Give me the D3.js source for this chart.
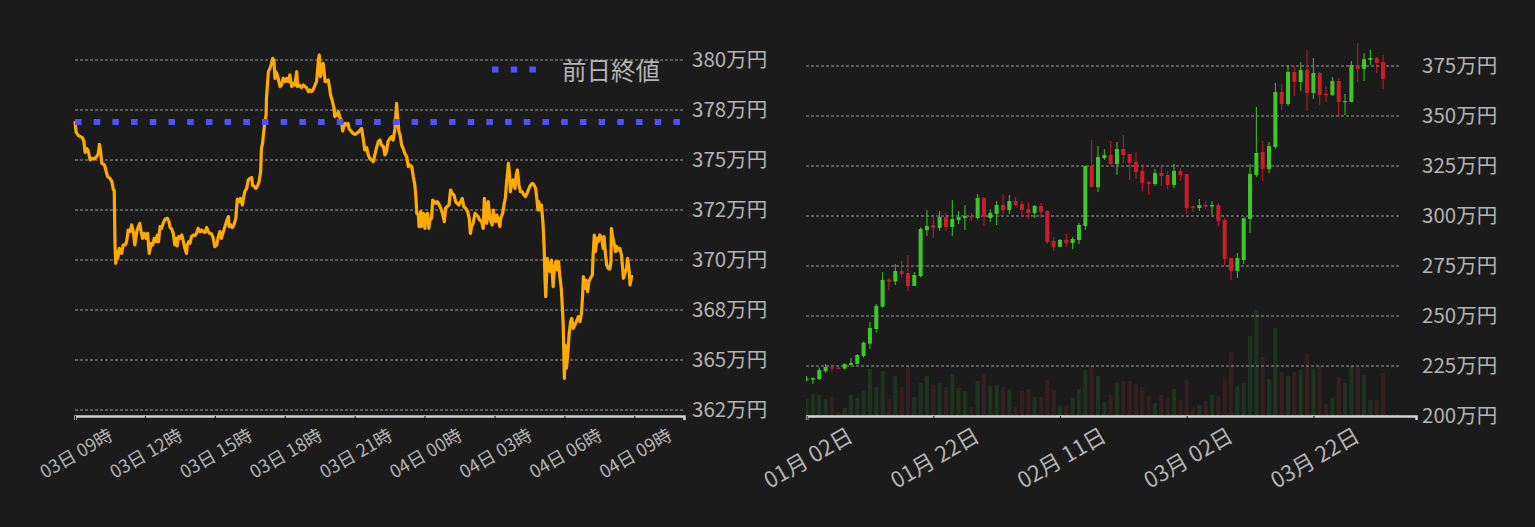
<!DOCTYPE html>
<html><head><meta charset="utf-8">
<script src="https://cdn.jsdelivr.net/npm/d3@7"></script>
<style>
html,body{margin:0;padding:0;background:#1b1b1b;}
svg{display:block;}
</style></head><body>
<svg id="c" width="1535" height="527"></svg>
<script>
// ---------- intraday (left) data ----------
const legendLabel = "前日終値";
const prevClose = 376.9; // 万円
const lineMinutes = [
0,3,9,19,23,26,30,34,39,43,
49,56,60,63,66,69,76,80,84,90,
95,99,101,103,105,107,110,114,120,124,
129,133,137,142,146,150,154,159,163,167,
170,174,178,183,187,191,196,200,204,209,
212,215,219,223,227,232,238,242,245,249,
253,257,260,263,267,270,275,279,283,287,
289,293,296,300,305,309,313,317,322,326,
330,335,339,343,347,352,356,360,365,369,
373,377,382,386,390,395,397,401,405,409,
414,418,422,426,431,433,437,442,446,450,
455,457,462,466,470,474,478,480,483,485,
487,489,492,493,496,498,502,506,509,512,
515,517,521,525,528,532,536,541,545,549,
553,558,562,566,571,573,577,583,588,592,
596,601,605,609,613,618,622,625,627,629,
632,637,639,644,648,652,655,658,662,667,
669,674,678,682,686,689,692,696,699,703,
706,712,716,721,
729,738,742,746,751,755,759,764,768,772,
776,781,785,789,794,798,802,806,811,815,
819,824,826,828,830,834,837,841,845,849,
854,858,862,867,871,875,878,880,884,886,
890,892,897,901,903,908,911,914,918,921,
925,929,933,938,942,946,951,954,958,963,
967,971,976,980,984,988,993,997,1001,1006,
1011,1015,1018,1021,1025,1030,1034,1038,1042,1047,
1051,1054,1057,1060,1064,1068,1071,1074,1077,1079,
1083,1086,1090,1094,1096,1101,1105,1108,1111,1114,
1116,1119,1121,1124,1128,1133,1136,1139,1143,1147,
1151,1156,1160,1164,1169,1173,1177,1181,1186,1189,
1192,1194,1198,1201,1205,1208,1210,1212,1216,1219,
1223,1227,1231,1234,1238,1242,1245,1248,1252,1255,
1257,1260,1262,1265,1267,1270,1272,1276,1279,1283,
1287,1291,1296,1300,1304,1307,1309,1313,1316,1320,
1323,1327,1332,1334,1337,1340,1344,1347,1351,1356,
1360,1362,1366,1369,1373,1377,1380,1381,1385,1388,
1392,1395,1399,1403,1407,1410,1412,1416,1420,1423,
1427,1429,1433,1437
];
const lineValues = [
376.95,376.38,376.22,376.12,375.92,375.38,375.58,375.45,375.0,375.08,
375.05,375.17,375.33,375.78,375.42,374.83,374.75,374.45,374.17,374.08,
373.92,373.5,373.47,370.75,369.83,370.42,370.08,370.58,370.33,370.75,
370.75,370.92,371.5,371.42,371.75,371.42,370.75,371.42,371.67,371.83,
371.42,371.08,371.33,371.08,371.33,370.33,370.83,370.75,371.08,370.92,
371.25,370.92,371.67,371.58,371.83,372.05,372.08,371.92,371.62,371.55,
371.33,370.75,371.08,370.7,371.17,371.08,371.25,370.92,370.58,370.33,
370.75,370.92,370.83,371.17,371.25,371.22,371.33,371.58,371.42,371.5,
371.42,371.38,371.62,371.42,371.33,371.3,371.08,370.67,370.75,371.17,
371.42,371.08,371.42,371.67,371.92,372.17,371.67,371.75,371.62,371.75,
372.08,373.05,372.92,373.08,372.75,373.0,373.42,373.58,374.0,374.08,
374.12,373.75,373.67,373.58,373.7,373.92,374.42,375.58,375.83,376.25,
376.58,376.92,377.25,378.08,378.92,379.42,379.58,379.83,380.08,380.0,
379.08,379.42,379.25,378.92,378.67,378.75,379.08,378.92,379.08,378.92,
379.25,378.67,378.83,378.75,379.42,378.67,378.75,378.62,378.75,378.67,
378.62,378.42,378.5,378.42,378.5,378.75,378.92,379.58,380.08,380.25,
379.17,379.75,379.83,378.92,378.95,379.0,378.67,378.25,378.0,377.58,
377.17,377.25,377.42,377.12,377.0,376.45,376.67,376.83,376.75,376.83,
376.55,376.42,376.33,376.28,
376.38,376.58,376.08,375.5,375.62,375.25,375.08,375.0,374.92,375.25,
375.58,375.92,376.0,375.75,375.67,375.25,375.42,375.92,376.08,376.17,
376.0,376.58,377.25,377.83,377.25,376.42,376.25,375.75,375.58,375.33,
375.17,374.67,374.75,374.67,374.17,373.75,373.08,372.33,372.25,371.67,
372.42,371.67,372.33,371.58,372.25,372.33,371.58,372.0,372.08,373.0,
372.92,372.83,372.92,372.75,372.58,372.33,371.92,372.58,372.67,372.75,
373.5,373.33,373.25,372.92,372.83,372.75,372.92,373.08,372.67,372.58,
372.42,372.08,371.33,371.67,371.83,372.33,372.25,372.17,372.0,371.92,
371.58,373.08,372.58,371.83,372.92,372.08,371.92,371.75,372.5,372.08,
371.92,372.25,372.0,371.67,372.08,372.33,372.83,373.08,373.83,374.42,
374.83,374.25,373.42,373.75,374.0,373.58,374.25,374.5,373.75,373.42,
373.42,373.25,373.17,373.33,373.58,373.75,373.83,373.78,373.58,373.08,
372.5,372.92,372.5,372.75,371.83,370.58,369.08,368.17,370.08,369.58,
369.42,370.0,368.67,369.5,369.92,369.5,369.92,369.25,368.58,367.58,
366.75,364.08,365.75,364.58,364.92,365.58,366.25,366.92,367.08,366.58,
366.75,366.92,367.17,366.92,367.33,368.25,369.17,368.58,369.0,368.42,
368.92,369.08,369.25,370.25,371.25,370.42,371.08,370.92,371.25,371.08,
370.58,371.17,370.25,369.75,369.58,369.55,369.92,371.58,371.08,370.83,
370.42,370.67,370.5,370.58,370.25,369.58,369.08,369.33,369.58,370.08,
369.42,368.75,369.17,369.17
];
const leftTickValues = [380, 377.5, 375, 372.5, 370, 367.5, 365, 362.5];
const leftTickLabels = ["380万円","378万円","375万円","372万円","370万円","368万円","365万円","362万円"];

// ---------- daily (right) data ----------
const opens = [
218.0,218.2,218.5,222.5,224.3,224.2,223.7,225.5,226.0,230.0,
236.2,243.5,254.7,268.2,267.2,272.5,271.5,265.0,270.0,293.0,
295.5,294.0,299.5,294.5,298.0,299.0,300.0,299.0,309.0,299.0,
301.0,305.5,303.0,307.5,306.0,303.5,301.5,305.0,302.5,287.5,
284.5,288.0,286.5,288.0,295.0,325.0,314.5,329.0,330.5,326.0,
333.5,331.0,327.0,322.5,317.0,316.0,321.5,320.5,315.5,322.5,
321.0,304.7,304.0,305.5,304.7,305.5,298.0,279.0,272.5,278.0,
298.5,320.5,332.0,323.5,334.5,362.0,356.0,372.0,367.0,373.0,
361.5,371.5,361.0,360.5,367.5,357.3,357.0,375.5,373.5,378.0,
379.0,377.0];
const highs = [
220.0,219.0,224.3,226.0,226.0,224.5,226.3,229.0,231.0,237.2,
247.0,256.0,272.0,268.8,276.0,277.5,280.5,272.0,294.3,303.0,
299.7,302.5,302.0,308.0,302.5,305.5,301.5,311.0,309.5,303.5,
307.5,311.0,310.5,309.5,307.5,307.0,305.5,306.5,303.0,289.5,
288.5,291.0,289.5,296.5,325.0,338.0,335.0,333.5,337.5,337.0,
340.5,331.0,332.0,326.0,317.5,323.5,325.0,322.5,326.0,324.0,
321.0,305.0,308.5,307.5,307.5,306.5,299.0,279.0,281.5,299.0,
326.0,354.5,337.5,337.0,366.5,366.0,375.5,375.0,377.0,383.0,
379.0,372.0,365.0,369.5,369.0,361.0,377.5,386.5,381.5,383.0,
379.5,380.5];
const lows = [
217.2,216.0,218.0,221.5,222.2,223.5,223.3,225.5,225.7,229.2,
233.5,241.7,254.2,263.0,265.5,269.2,262.5,265.0,269.3,290.0,
289.0,292.7,292.5,290.0,296.0,293.0,297.5,298.5,295.0,297.0,
295.5,301.0,301.0,305.0,300.0,298.5,299.0,299.0,286.0,282.5,
284.5,284.5,283.5,286.0,293.0,314.5,312.0,328.0,325.5,320.5,
326.5,318.0,318.5,312.5,310.5,315.0,315.0,313.5,314.0,317.5,
301.0,302.0,302.5,303.5,300.5,295.0,275.5,268.0,269.0,276.0,
291.5,319.5,317.5,321.5,333.5,353.0,355.0,360.0,362.5,352.5,
358.5,355.5,357.0,360.0,350.0,350.5,357.0,367.0,367.5,375.5,
371.5,363.5];
const closes = [
218.7,219.0,223.0,224.5,223.7,223.7,226.0,226.5,230.5,236.7,
244.0,255.0,268.0,267.2,272.5,271.0,265.0,270.5,293.5,295.0,
294.0,299.5,294.5,298.5,299.5,300.0,299.3,309.0,299.5,301.5,
305.5,303.0,307.5,305.5,303.0,301.5,305.0,302.0,287.0,284.5,
288.0,286.5,288.5,295.5,325.0,314.5,329.5,330.5,326.0,333.5,
330.5,326.5,322.0,316.5,316.0,321.5,320.0,315.5,322.5,320.5,
304.0,304.0,305.5,304.7,305.5,297.5,278.5,272.5,279.0,299.0,
321.0,331.5,323.5,335.0,362.0,356.0,372.0,367.0,373.0,361.5,
371.5,360.5,360.5,367.5,357.0,357.5,375.5,373.5,378.5,379.0,
376.5,368.5];
const volumes = [
1700,2200,2100,1700,1900,400,800,2100,1800,2500,
4700,2900,4500,1700,4000,2900,4900,1900,3300,4000,
3100,3300,2900,4200,2800,2500,900,3500,4200,3000,
3100,2900,2600,900,2500,2700,1900,1900,3600,2600,
1000,1000,1800,2700,4600,5000,4000,1400,2100,3300,
3500,3500,3200,2900,2000,1300,2100,1800,2700,1600,
3600,900,1100,1500,2100,2000,3700,6400,3000,3300,
8000,10600,5900,3700,8800,4400,4000,4400,4600,6200,
4700,5000,1200,1800,3900,3300,5000,5000,4100,1600,
1600,4300];
const dailyTickIndex = [0, 20, 40, 60, 80];
const dailyTickLabels = ["01月 02日","01月 22日","02月 11日","03月 02日","03月 22日"];
const rightTickValues = [375, 350, 325, 300, 275, 250, 225, 200];

// ---------- drawing ----------
const FONT = '"Noto Sans CJK JP","Noto Sans",sans-serif';
const TXT = "#b4b4b4";
const GRID = "#bcbcbc";
const svg = d3.select("#c");
svg.append("rect").attr("width",1535).attr("height",527).attr("fill","#1b1b1b");

// LEFT
const start = new Date(2023,3,3,9,0,0);
const xL = d3.scaleTime().domain([start, d3.timeMinute.offset(start,1568)]).range([75,684]);
const yL = d3.scaleLinear().domain([362.2,382.2]).range([416,16]);
const gL = svg.append("g");
gL.selectAll("line.g").data(leftTickValues).join("line")
  .attr("x1",75).attr("x2",684).attr("y1",d=>yL(d)).attr("y2",d=>yL(d))
  .attr("stroke",GRID).attr("stroke-width",0.8).attr("stroke-dasharray","3,2");
const pts = lineMinutes.map((m,i)=>({t:d3.timeMinute.offset(start,m), v:lineValues[i]})).filter(d=>d.v!==undefined);
gL.append("path").datum(pts)
  .attr("d", d3.line().x(d=>xL(d.t)).y(d=>yL(d.v)))
  .attr("fill","none").attr("stroke","#ffaa00").attr("stroke-width",3.2).attr("stroke-linejoin","round");
gL.append("line").attr("x1",75).attr("x2",684).attr("y1",yL(prevClose)).attr("y2",yL(prevClose))
  .attr("stroke","#5050ff").attr("stroke-width",6).attr("stroke-dasharray","6.5,12.2");
// legend
gL.append("line").attr("x1",492).attr("x2",540).attr("y1",69.5).attr("y2",69.5)
  .attr("stroke","#5050ff").attr("stroke-width",6).attr("stroke-dasharray","6.5,12.2");
gL.append("text").attr("x",562).attr("y",69.5).attr("dominant-baseline","central")
  .attr("font-family",FONT).attr("font-size",24.5).attr("fill",TXT).text(legendLabel);

const axL = d3.axisBottom(xL)
  .tickValues(d3.range(9).map(k=>d3.timeHour.offset(start,3*k)))
  .tickFormat(d3.timeFormat("%d日 %H時")).tickSizeOuter(0).tickSize(4);
const gaxL = svg.append("g").attr("transform","translate(0,416)").call(axL);
gaxL.select(".domain").attr("stroke","#d2d2d2").attr("stroke-width",2.5);
gaxL.selectAll(".tick line").attr("stroke","#000");
gaxL.selectAll(".tick text").attr("fill",TXT).attr("font-size",18).attr("font-family",FONT)
  .attr("y",36).attr("dy",null).attr("text-anchor","middle").attr("dominant-baseline","central")
  .attr("transform","rotate(-30,0,36)");
const ayL = d3.axisRight(yL).tickValues(leftTickValues).tickFormat((d,i)=>leftTickLabels[i]).tickSize(0).tickPadding(8);
const gayL = svg.append("g").attr("transform","translate(684,0)").call(ayL);
gayL.select(".domain").remove();
gayL.selectAll("text").attr("fill",TXT).attr("font-size",20.5).attr("font-family",FONT);

// RIGHT
const xR = d3.scaleLinear().domain([0,96.2]).range([806.6,1416]);
const yR = d3.scaleLinear().domain([200,400]).range([416,16]);
const yV = d3.scaleLinear().domain([0,40000]).range([416,16]);
svg.append("clipPath").attr("id","cr").append("rect").attr("x",806).attr("y",0).attr("width",610).attr("height",416);
const gR = svg.append("g").attr("clip-path","url(#cr)");
const idx = d3.range(opens.length);
const up = i => closes[i] >= opens[i];
gR.selectAll("rect.v").data(idx).join("rect")
  .attr("x",i=>xR(i)-2).attr("width",4)
  .attr("y",i=>yV(volumes[i])).attr("height",i=>yV(0)-yV(volumes[i]))
  .attr("fill",i=>up(i)?"#1e341e":"#361f20");
gR.selectAll("line.g").data(rightTickValues).join("line")
  .attr("x1",806).attr("x2",1400).attr("y1",d=>yR(d)).attr("y2",d=>yR(d))
  .attr("stroke",GRID).attr("stroke-width",0.8).attr("stroke-dasharray","3,2");
const GREEN="#3cc828", RED="#c81e2a";
gR.selectAll("line.w").data(idx).join("line")
  .attr("x1",i=>xR(i)).attr("x2",i=>xR(i)).attr("y1",i=>yR(highs[i])).attr("y2",i=>yR(lows[i]))
  .attr("stroke",i=>up(i)?GREEN:RED).attr("stroke-width",1);
gR.selectAll("rect.b").data(idx).join("rect")
  .attr("x",i=>xR(i)-2).attr("width",4)
  .attr("y",i=>yR(Math.max(opens[i],closes[i])))
  .attr("height",i=>Math.max(1.2,Math.abs(yR(opens[i])-yR(closes[i]))))
  .attr("fill",i=>up(i)?GREEN:RED);

const axR = d3.axisBottom(xR).tickValues(dailyTickIndex).tickFormat((d,i)=>dailyTickLabels[i]).tickSizeOuter(0).tickSize(4);
const gaxR = svg.append("g").attr("transform","translate(0,416)").call(axR);
gaxR.select(".domain").attr("stroke","#d2d2d2").attr("stroke-width",2.5);
gaxR.selectAll(".tick line").attr("stroke","#000");
gaxR.selectAll(".tick text").attr("fill",TXT).attr("font-size",22).attr("font-family",FONT)
  .attr("y",40).attr("dy",null).attr("text-anchor","middle").attr("dominant-baseline","central")
  .attr("transform","rotate(-30,0,40)");
const ayR = d3.axisRight(yR).tickValues(rightTickValues).tickFormat(d=>d+"万円").tickSize(0).tickPadding(6);
const gayR = svg.append("g").attr("transform","translate(1416,0)").call(ayR);
gayR.select(".domain").remove();
gayR.selectAll("text").attr("fill",TXT).attr("font-size",20.5).attr("font-family",FONT);
</script>
</body></html>
